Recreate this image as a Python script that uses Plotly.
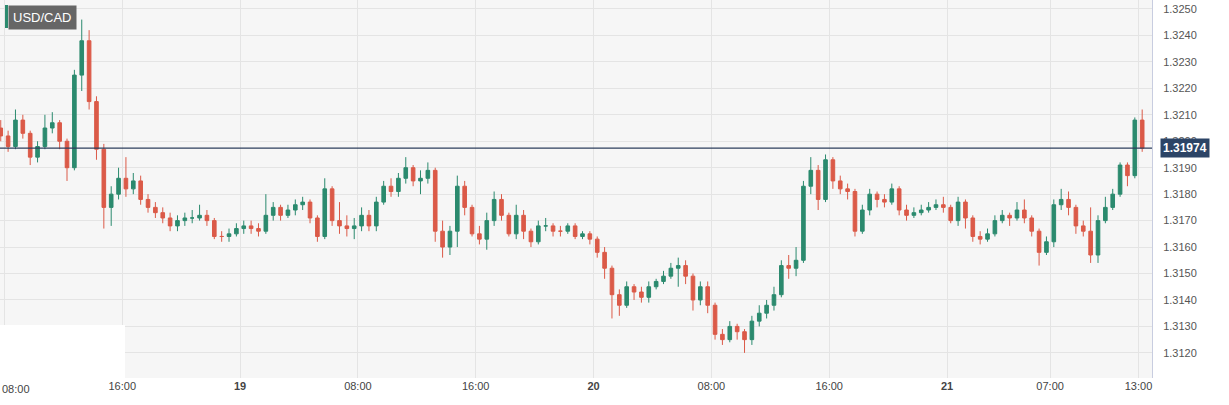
import plotly.graph_objects as go
import pandas as pd

start = "2024-03-18 07:45"
first_open = 1.3205
closes = [1.3202,1.3198, 1.3208,1.3203, 1.3194,1.3198, 1.3205,1.3207, 1.3200,1.3190, 1.3225,1.3238,
 1.3215,1.3197, 1.3175,1.3180, 1.3186,1.3182, 1.3185,1.3178, 1.3175,1.3173, 1.3171,1.3168,
 1.3170,1.3171, 1.3171,1.3172, 1.3170,1.3164, 1.3164,1.3165, 1.3167,1.3168,
 1.3167,1.3166, 1.3172,1.3175, 1.3172,1.3174, 1.3176,1.3177, 1.3171,1.3164, 1.3182,1.3170,
 1.3168,1.3167, 1.3168,1.3172, 1.3168,1.3177, 1.3183,1.3181, 1.3186,1.3190, 1.3185,1.3186,
 1.3189,1.3166, 1.3160,1.3166, 1.3183,1.3175, 1.3165,1.3163, 1.3170,1.3178, 1.3172,1.3165,
 1.3172,1.3166, 1.3162,1.3168, 1.3168,1.3166, 1.3166,1.3168, 1.3164,1.3165, 1.3163,1.3158,
 1.3152,1.3142, 1.3138,1.3145, 1.3143,1.3141, 1.3145,1.3147, 1.3149,1.3152, 1.3153,1.3149,
 1.3140,1.3145, 1.3138,1.3127, 1.3125,1.3130, 1.3128,1.3125, 1.3132,1.3135, 1.3138,1.3142,
 1.3153,1.3152, 1.3155,1.3183, 1.3189,1.3178, 1.3193,1.3185, 1.3182,1.3181, 1.3166,1.3174,
 1.3180,1.3178, 1.3177,1.3182, 1.3174,1.3172, 1.3173,1.3174, 1.3175,1.3176, 1.3175,1.3170,
 1.3177,1.3171, 1.3164,1.3163, 1.3165,1.3170, 1.3172,1.3171, 1.3174,1.3171, 1.3166,1.3158,
 1.3162,1.3176, 1.3178,1.3175, 1.3168,1.3166, 1.3157,1.3170, 1.3175,1.3180, 1.3191,1.3187,
 1.3208,1.31974]
highs = [1.3208,1.3204, 1.3212,1.3210, 1.3204,1.3200, 1.3210,1.3211, 1.3208,1.3201, 1.3227,1.3246,
 1.3242,1.3217, 1.3199,1.3183, 1.3190,1.3194, 1.3188,1.3187, 1.3180,1.3177, 1.3175,1.3173,
 1.3172,1.3173, 1.3174,1.3176, 1.3174,1.3171, 1.3166,1.3167, 1.3169,1.3170,
 1.3170,1.3169, 1.3180,1.3177, 1.3176,1.3176, 1.3178,1.3179, 1.3178,1.3172, 1.3186,1.3183,
 1.3177,1.3172, 1.3171,1.3175, 1.3174,1.3179, 1.3185,1.3186, 1.3188,1.3194, 1.3191,1.3189,
 1.3192,1.3190, 1.3170,1.3168, 1.3187,1.3185, 1.3176,1.3168, 1.3173,1.3181, 1.3180,1.3173,
 1.3176,1.3174, 1.3167,1.3170, 1.3171,1.3169, 1.3168,1.3169, 1.3169,1.3166, 1.3166,1.3164,
 1.3160,1.3153, 1.3144,1.3147, 1.3146,1.3145, 1.3147,1.3148, 1.3151,1.3154, 1.3156,1.3155,
 1.3150,1.3147, 1.3147,1.3139, 1.3129,1.3132, 1.3131,1.3129, 1.3134,1.3138, 1.3140,1.3145,
 1.3155,1.3157, 1.3160,1.3185, 1.3194,1.3191, 1.3195,1.3194, 1.3187,1.3184, 1.3182,1.3176,
 1.3182,1.3181, 1.3180,1.3184, 1.3183,1.3176, 1.3175,1.3176, 1.3177,1.3178, 1.3179,1.3176,
 1.3179,1.3178, 1.3172,1.3166, 1.3167,1.3172, 1.3174,1.3173, 1.3177,1.3178, 1.3172,1.3167,
 1.3164,1.3178, 1.3182,1.3181, 1.3176,1.3170, 1.3175,1.3172, 1.3179,1.3182, 1.3192,1.3192,
 1.3209,1.3212]
lows = [1.3200,1.3196, 1.3197,1.3201, 1.3191,1.3192, 1.3197,1.3203, 1.3197,1.3185, 1.3189,1.3219,
 1.3212,1.3193, 1.3167,1.3168, 1.3178,1.3179, 1.3180,1.3176, 1.3173,1.3171, 1.3169,1.3166,
 1.3166,1.3168, 1.3169,1.3170, 1.3168,1.3163, 1.3162,1.3162, 1.3164,1.3165,
 1.3165,1.3164, 1.3165,1.3170, 1.3170,1.3171, 1.3172,1.3174, 1.3169,1.3162, 1.3163,1.3168,
 1.3165,1.3164, 1.3163,1.3166, 1.3166,1.3166, 1.3176,1.3179, 1.3179,1.3184, 1.3183,1.3180,
 1.3184,1.3162, 1.3156,1.3157, 1.3160,1.3172, 1.3164,1.3161, 1.3159,1.3168, 1.3170,1.3164,
 1.3163,1.3163, 1.3160,1.3161, 1.3166,1.3164, 1.3164,1.3165, 1.3163,1.3163, 1.3161,1.3156,
 1.3148,1.3133, 1.3134,1.3137, 1.3140,1.3139, 1.3139,1.3144, 1.3146,1.3148, 1.3145,1.3146,
 1.3136,1.3138, 1.3135,1.3125, 1.3123,1.3124, 1.3125,1.3120, 1.3123,1.3130, 1.3133,1.3136,
 1.3141,1.3148, 1.3149,1.3154, 1.3180,1.3174, 1.3177,1.3182, 1.3180,1.3178, 1.3164,1.3165,
 1.3172,1.3175, 1.3175,1.3176, 1.3172,1.3170, 1.3171,1.3172, 1.3173,1.3174, 1.3173,1.3169,
 1.3168,1.3167, 1.3162,1.3161, 1.3162,1.3164, 1.3169,1.3168, 1.3170,1.3169, 1.3164,1.3153,
 1.3157,1.3160, 1.3174,1.3172, 1.3165,1.3164, 1.3154,1.3154, 1.3169,1.3174, 1.3179,1.3183,
 1.3186,1.3196]
opens = [first_open] + closes[:-1]
last_price = 1.31974

tick_times = ["2024-03-18 08:00", "2024-03-18 16:00", "2024-03-19 00:00", "2024-03-19 08:00",
              "2024-03-19 16:00", "2024-03-20 00:00", "2024-03-20 08:00", "2024-03-20 16:00",
              "2024-03-21 00:00", "2024-03-21 07:00", "2024-03-21 13:00"]
tick_labels = ["", "16:00", "<b>19</b>", "08:00", "16:00", "<b>20</b>", "08:00", "16:00",
               "<b>21</b>", "07:00", "13:00"]
first_tick_label = "08:00"
price_ticks = [1.3120, 1.3130, 1.3140, 1.3150, 1.3160, 1.3170, 1.3180, 1.3190, 1.3200,
               1.3210, 1.3220, 1.3230, 1.3240, 1.3250]

times = pd.date_range(start, periods=len(closes), freq="30min")

fig = go.Figure(go.Candlestick(
    x=times, open=opens, high=highs, low=lows, close=closes,
    increasing=dict(line=dict(color="#2b8a6e", width=1), fillcolor="#2b8a6e"),
    decreasing=dict(line=dict(color="#db5a48", width=1), fillcolor="#db5a48"),
    whiskerwidth=0, hoverinfo="skip"))

fig.add_shape(type="line", xref="paper", x0=0, x1=1, yref="y", y0=last_price, y1=last_price,
              line=dict(color="#2c3e5c", width=1.2))
fig.add_shape(type="rect", xref="paper", yref="paper", x0=0, x1=125/1152, y0=0, y1=(378-325)/378,
              fillcolor="white", line=dict(width=0), layer="above")
fig.add_annotation(xref="paper", x=1.0, xanchor="left", yref="y", y=last_price,
                   text="<b>1.31974</b>", showarrow=False, bgcolor="#2c4466",
                   font=dict(color="white", size=12, family="Arial"), borderpad=2, xshift=8)
fig.add_annotation(xref="paper", yref="paper", x=0, y=0, xanchor="left", yanchor="top",
                   text=first_tick_label, showarrow=False, yshift=-3,
                   font=dict(size=11, color="#444"))
fig.add_annotation(xref="paper", yref="paper", x=8/1152, y=1-5/378, xanchor="left", yanchor="top",
                   text="USD/CAD", showarrow=False, bgcolor="#666666",
                   font=dict(color="white", size=13, family="Arial"), borderpad=4, xshift=0)
fig.add_shape(type="rect", xref="paper", yref="paper", x0=5/1152, x1=8/1152, y0=1-28/378, y1=1-5/378,
              fillcolor="#2b8a6e", line=dict(width=0))

fig.update_layout(
    width=1229, height=405, margin=dict(l=0, r=77, t=0, b=27, autoexpand=False),
    paper_bgcolor="white", plot_bgcolor="#f6f6f6", showlegend=False,
    font=dict(family="Arial, Liberation Sans", size=11, color="#444"),
    xaxis=dict(type="date", rangeslider=dict(visible=False),
               range=["2024-03-18 07:42", "2024-03-21 13:55"],
               tickvals=pd.to_datetime(tick_times), ticktext=tick_labels,
               showgrid=True, gridcolor="#e4e4e4", zeroline=False, ticks="", tickfont=dict(size=11, color="#444")),
    yaxis=dict(side="right", range=[1.31105, 1.32534], tickvals=price_ticks,
               ticktext=[f"{v:.4f}" for v in price_ticks], showgrid=True, gridcolor="#e4e4e4",
               zeroline=False, showline=True, linecolor="#c8cde0", ticks="", ticklabelstandoff=8,
               tickfont=dict(size=11, color="#555")),
)
fig.write_html("out.html", config={"displayModeBar": False},
               post_script="document.body.style.margin='0';")
